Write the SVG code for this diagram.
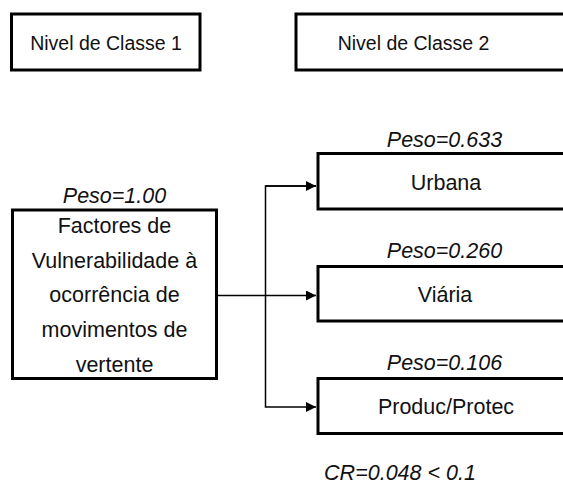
<svg xmlns="http://www.w3.org/2000/svg" width="563" height="486" viewBox="0 0 563 486">
<style>
.box{fill:#fff;stroke:#000;stroke-width:3}
.t{font-family:"Liberation Sans",Arial,sans-serif;font-size:21.5px;fill:#111;text-anchor:middle}
.n{font-family:"Liberation Sans",Arial,sans-serif;font-size:19.5px;fill:#111;text-anchor:middle}
.w{font-family:"Liberation Sans",Arial,sans-serif;font-size:21.5px;font-style:italic;fill:#111;text-anchor:middle}
.c{fill:none;stroke:#000;stroke-width:1.5}
</style>
<defs>
<marker id="ah" viewBox="0 0 10 10" refX="10" refY="5" markerWidth="11" markerHeight="10" markerUnits="userSpaceOnUse" orient="auto">
<path d="M0,0 L10,5 L0,10 z" fill="#000"/>
</marker>
</defs>
<rect width="563" height="486" fill="#fff"/>
<g id="nivel1">
<rect class="box" x="11.5" y="14" width="188.5" height="56"/>
<text class="n" x="106" y="50">Nivel de Classe 1</text>
</g>
<g id="nivel2">
<rect class="box" x="296" y="14" width="280" height="56"/>
<text class="n" x="413.5" y="50">Nivel de Classe 2</text>
</g>
<g id="connectors">
<path class="c" d="M216.5,295.5 H316" marker-end="url(#ah)"/>
<path class="c" d="M316,186 H265.5 V407 H316" marker-end="url(#ah)"/>
<path class="c" d="M265.5,186 H316" marker-end="url(#ah)"/>
</g>
<g id="factores">
<text class="w" x="114.5" y="203">Peso=1.00</text>
<rect class="box" x="12.5" y="210" width="204" height="168.5"/>
<text class="t" x="114.5" y="233">Factores de</text>
<text class="t" x="114.5" y="268">Vulnerabilidade à</text>
<text class="t" x="114.5" y="302">ocorrência de</text>
<text class="t" x="114.5" y="337">movimentos de</text>
<text class="t" x="114.5" y="372">vertente</text>
</g>
<g id="urbana">
<text class="w" x="444.5" y="147">Peso=0.633</text>
<rect class="box" x="318" y="153.5" width="260" height="55.5"/>
<text class="t" x="446" y="190">Urbana</text>
</g>
<g id="viaria">
<text class="w" x="444.5" y="258">Peso=0.260</text>
<rect class="box" x="318" y="266.5" width="260" height="54.5"/>
<text class="t" x="445" y="302">Viária</text>
</g>
<g id="produc">
<text class="w" x="444.5" y="370">Peso=0.106</text>
<rect class="box" x="318" y="378.5" width="260" height="55"/>
<text class="t" x="446" y="414">Produc/Protec</text>
</g>
<text class="w" x="400" y="480">CR=0.048 &lt; 0.1</text>
</svg>
